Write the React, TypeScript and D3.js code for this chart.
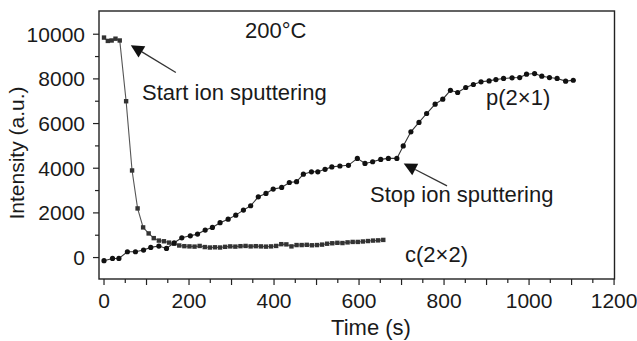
import React from "react";
import * as d3 from "d3";

const W = 637;
const H = 341;

// c(2x2) series (square markers)
const cTimes = [0, 9, 18, 27, 37, 52, 66, 79, 92, 105, 117, 129, 141, 153, 165, 177, 189, 201, 213, 225, 237, 249, 261, 273, 285, 297, 309, 321, 333, 345, 357, 369, 381, 393, 405, 417, 429, 441, 453, 465, 477, 489, 501, 513, 525, 537, 549, 561, 573, 585, 597, 609, 621, 633, 645, 657];
const cValues = [9850, 9700, 9720, 9800, 9720, 7000, 3900, 2200, 1350, 1080, 870, 760, 730, 670, 620, 540, 510, 500, 490, 520, 470, 450, 460, 450, 480, 500, 490, 510, 520, 500, 510, 500, 490, 500, 520, 600, 590, 500, 560, 560, 570, 550, 560, 580, 620, 640, 660, 650, 680, 700, 700, 720, 740, 760, 770, 790];

// p(2x1) series (circle markers)
const pTimes = [0, 20, 35, 55, 74, 93, 110, 129, 147, 165, 183, 203, 220, 238, 255, 273, 292, 310, 328, 345, 363, 381, 398, 418, 436, 453, 469, 488, 503, 520, 536, 555, 575, 596, 614, 632, 651, 669, 689, 704, 722, 741, 759, 779, 797, 815, 832, 851, 869, 887, 906, 922, 940, 960, 978, 994, 1013, 1030, 1048, 1066, 1086, 1104];
const pValues = [-140, -40, -40, 260, 260, 335, 455, 515, 410, 660, 885, 975, 1050, 1230, 1350, 1560, 1720, 1900, 2125, 2320, 2720, 2870, 3065, 3140, 3360, 3400, 3735, 3840, 3840, 3950, 4060, 4100, 4130, 4440, 4215, 4290, 4395, 4440, 4440, 5000, 5630, 6050, 6450, 6870, 7090, 7490, 7390, 7615, 7750, 7870, 7910, 7970, 8020, 8050, 8060, 8210, 8240, 8120, 8060, 8020, 7900, 7940];

const xTickLabels = [0, 200, 400, 600, 800, 1000, 1200];
const yTickLabels = [0, 2000, 4000, 6000, 8000, 10000];

const FONT = "'Liberation Sans', Arial, Helvetica, sans-serif";
const INK = "#1a1a1a";

export default function App() {
  const left = 99, right = 614.5, top = 11, bottom = 279;
  const x = d3.scaleLinear().domain([-11.8, 1201]).range([left, right]);
  const y = d3.scaleLinear().domain([-960, 11040]).range([bottom, top]);

  const cData = cTimes.map((t, i) => [t, cValues[i]] as [number, number]);
  const pData = pTimes.map((t, i) => [t, pValues[i]] as [number, number]);
  const line = d3.line<[number, number]>().x(d => x(d[0])).y(d => y(d[1]));

  const xMinor = d3.range(0, 1201, 50);
  const yMinor = d3.range(0, 10001, 1000);

  const arrow = (tail: [number, number], tip: [number, number], key: string) => {
    const x1 = x(tail[0]), y1 = y(tail[1]), x2 = x(tip[0]), y2 = y(tip[1]);
    const ang = Math.atan2(y2 - y1, x2 - x1);
    const len = 13, hw = 6.5;
    const bx = x2 - len * Math.cos(ang), by = y2 - len * Math.sin(ang);
    const px = -Math.sin(ang) * hw, py = Math.cos(ang) * hw;
    return (
      <g key={key}>
        <line x1={x1} y1={y1} x2={bx} y2={by} stroke="#333" strokeWidth={1.3} />
        <path d={`M${x2},${y2}L${bx + px},${by + py}L${bx - px},${by - py}Z`} fill="#111" />
      </g>
    );
  };

  return (
    <svg width={W} height={H} style={{ position: "absolute", left: 0, top: 0, background: "#fff" }} fontFamily={FONT}>
      <rect x={0} y={0} width={W} height={H} fill="#fff" />
      {/* frame */}
      <rect x={left} y={top} width={right - left} height={bottom - top} fill="none" stroke="#222" strokeWidth={1.4} />

      {/* x ticks */}
      {xMinor.map(v => (
        <line key={"xt" + v} x1={x(v)} x2={x(v)} y1={bottom} y2={bottom + (v % 100 === 0 ? 6 : 4)} stroke="#222" strokeWidth={1.2} />
      ))}
      {xTickLabels.map(v => (
        <text key={"xl" + v} x={x(v)} y={308} textAnchor="middle" fontSize={21} fill={INK}>{v}</text>
      ))}

      {/* y ticks */}
      {yMinor.map(v => (
        <line key={"yt" + v} x1={left - (v % 2000 === 0 ? 6 : 4)} x2={left} y1={y(v)} y2={y(v)} stroke="#222" strokeWidth={1.2} />
      ))}
      {yTickLabels.map(v => (
        <text key={"yl" + v} x={85} y={y(v) + 7.5} textAnchor="end" fontSize={21} fill={INK}>{v}</text>
      ))}

      {/* axis titles */}
      <text x={371} y={335} textAnchor="middle" fontSize={22} fill={INK}>Time (s)</text>
      <text transform={`translate(24,153) rotate(-90)`} textAnchor="middle" fontSize={21} fill={INK}>Intensity (a.u.)</text>

      {/* c(2x2) series */}
      <path d={line(cData) || ""} fill="none" stroke="#555" strokeWidth={1.1} />
      {cData.map((d, i) => (
        <rect key={"c" + i} x={x(d[0]) - 2.2} y={y(d[1]) - 2.2} width={4.4} height={4.4} fill="#333" />
      ))}

      {/* p(2x1) series */}
      <path d={line(pData) || ""} fill="none" stroke="#333" strokeWidth={1.1} />
      {pData.map((d, i) => (
        <circle key={"p" + i} cx={x(d[0])} cy={y(d[1])} r={2.6} fill="#111" />
      ))}

      {/* annotations */}
      <text x={245} y={38} fontSize={22} fill={INK}>200°C</text>
      <text x={142} y={100} fontSize={22} fill={INK}>Start ion sputtering</text>
      <text x={370} y={202} fontSize={22} fill={INK}>Stop ion sputtering</text>
      <text x={486} y={105} fontSize={22} fill={INK}>p(2×1)</text>
      <text x={405} y={262} fontSize={22} fill={INK}>c(2×2)</text>
      {arrow([169, 8286], [63, 9510], "a1")}
      {arrow([807, 3210], [705, 4210], "a2")}
    </svg>
  );
}
